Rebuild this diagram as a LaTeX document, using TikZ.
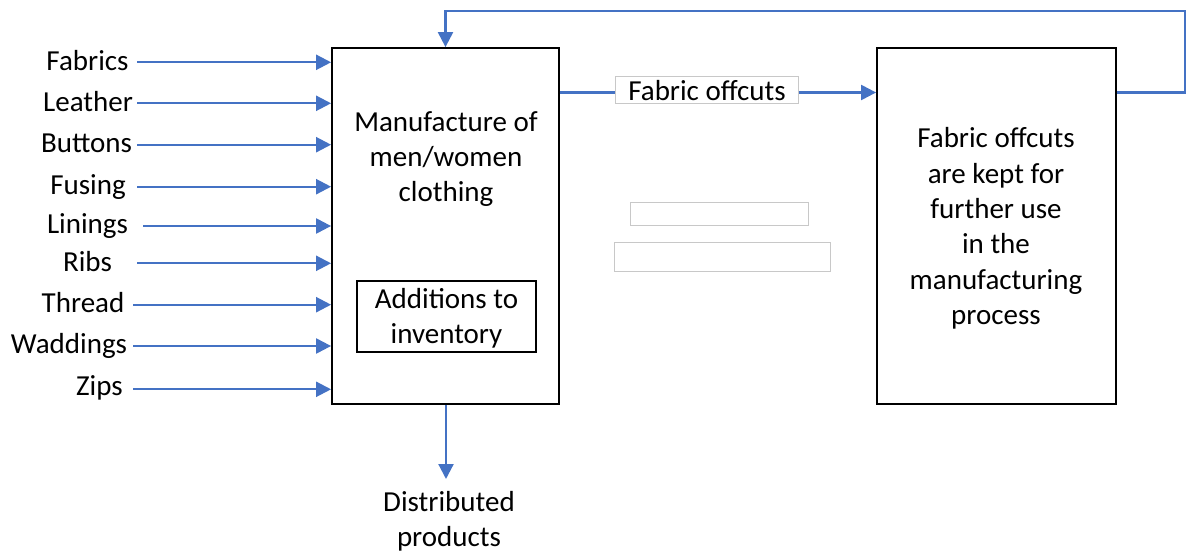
\documentclass[tikz,border=0pt]{standalone}
\usepackage{fontspec}
\setmainfont{Carlito}
\usetikzlibrary{arrows.meta}
\definecolor{flowblue}{HTML}{4472C4}
\definecolor{boxgray}{HTML}{C8C8C8}
\tikzset{
  flow/.style={draw=flowblue, line width=2.2pt},
  flowarrow/.style={flow, -{Triangle[length=15pt,width=15pt]}},
  blackbox/.style={draw=black, line width=1.8pt, fill=white, inner sep=0pt},
  graybox/.style={draw=boxgray, line width=1pt, fill=white, inner sep=0pt},
  txt/.style={font=\fontsize{29}{35.3}\selectfont, inner sep=0pt, align=center},
  inlabel/.style={font=\fontsize{29}{35.3}\selectfont, inner sep=0pt, anchor=base},
}
\begin{document}
\begin{tikzpicture}[x=1pt, y=-1pt]
\useasboundingbox (0,0) rectangle (1187,554);

% process boxes
\node[blackbox, minimum width=227pt, minimum height=356pt] (main) at (445.5,226) {};
\node[blackbox, minimum width=239pt, minimum height=356pt] (keep) at (996.5,226) {};
\node[blackbox, minimum width=179pt, minimum height=71pt] (inv) at (446.5,316.5) {};

\node[txt] (maintxt) at (446,159) {Manufacture of\\men/women\\clothing};
\node[txt] (invtxt) at (446.5,318) {Additions to\\inventory};
\node[txt] (keeptxt) at (996,228.5) {Fabric offcuts\\are kept for\\further use\\in the\\manufacturing\\process};

% empty placeholder boxes
\node[graybox, minimum width=178pt, minimum height=23pt] (blank1) at (719,213.5) {};
\node[graybox, minimum width=216pt, minimum height=29pt] (blank2) at (722,256.5) {};

% material inputs
\node[inlabel] (l1) at (87.5,70.3) {Fabrics};
\node[inlabel] (l2) at (88,111.3) {Leather};
\node[inlabel] (l3) at (86.5,152) {Buttons};
\node[inlabel] (l4) at (88,194) {Fusing};
\node[inlabel] (l5) at (87.5,233.7) {Linings};
\node[inlabel] (l6) at (87.5,271.2) {Ribs};
\node[inlabel] (l7) at (83,312.2) {Thread};
\node[inlabel] (l8) at (69,353) {Waddings};
\node[inlabel] (l9) at (99.5,395) {Zips};

\coordinate (s1) at (137,62.3);
\coordinate (s2) at (137,103.3);
\coordinate (s3) at (137,144.7);
\coordinate (s4) at (137,186.7);
\coordinate (s5) at (143,226);
\coordinate (s6) at (137,263.3);
\coordinate (s7) at (133,304.7);
\coordinate (s8) at (133,346);
\coordinate (s9) at (133,389.3);
\foreach \s in {s1,s2,s3,s4,s5,s6,s7,s8,s9}
  \draw[flowarrow] (\s) -- (\s -| main.west);

% offcuts flow
\node[graybox, minimum width=183pt, minimum height=27pt] (off) at (706.5,89.5) {};
\node[txt] (offtxt) at (707,90.5) {Fabric offcuts};
\coordinate (offy) at (0,92.5);
\draw[flow] (main.east |- offy) -- (off.west |- offy);
\draw[flowarrow] (off.east |- offy) -- (keep.west |- offy);

% return loop
\coordinate (loop) at (1185,11);
\draw[flowarrow] (keep.east |- offy) -| (loop) -| (main.north);

% output
\coordinate (dp) at (446,479);
\draw[flowarrow] (main.south -| dp) -- (dp);
\node[txt] (dist) at (449,521.5) {Distributed\\products};
\end{tikzpicture}
\end{document}
